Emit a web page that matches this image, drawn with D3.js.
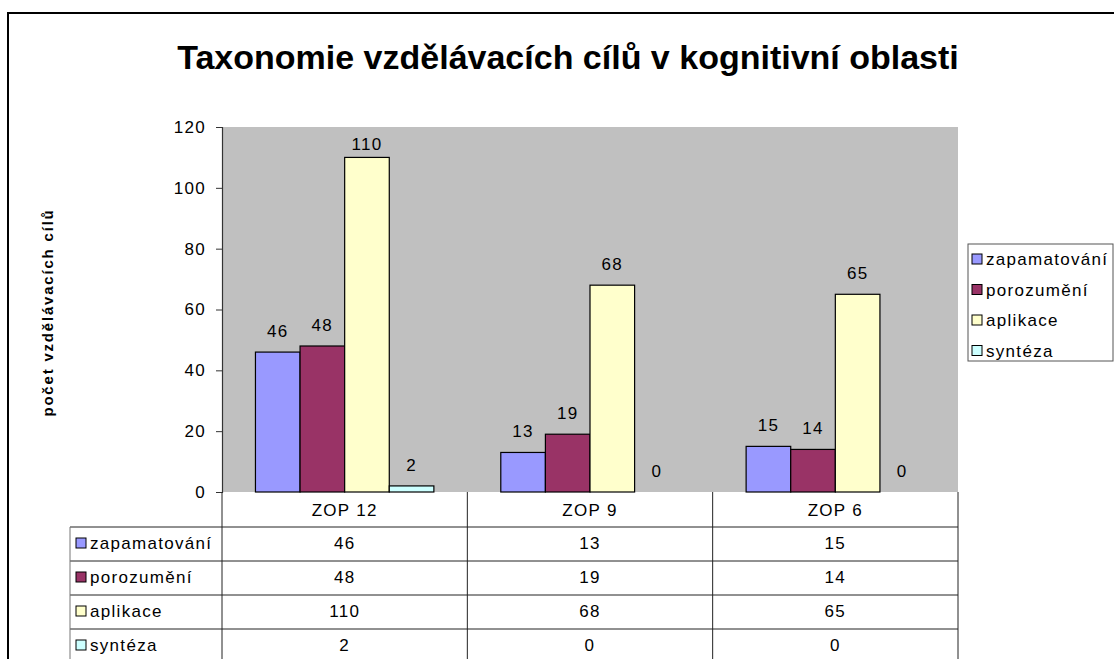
<!DOCTYPE html>
<html>
<head>
<meta charset="utf-8">
<script src="https://cdn.jsdelivr.net/npm/d3@7"></script>
<style>
  body { margin: 0; background: #fff; }
  text { font-family: Arial, "Liberation Sans", sans-serif; fill: #000; }
</style>
</head>
<body>
<svg width="1114" height="659"></svg>
<script>
// chart data
const categories = ['ZOP 12', 'ZOP 9', 'ZOP 6'];
const seriesNames = ['zapamatování', 'porozumění', 'aplikace', 'syntéza'];
const zapamatovani = [46, 13, 15];
const porozumeni = [48, 19, 14];
const aplikace = [110, 68, 65];
const synteza = [2, 0, 0];
const seriesColors = ['#9999FF', '#993366', '#FFFFCC', '#CCFFFF'];
const yTicks = [0, 20, 40, 60, 80, 100, 120];
const chartTitle = 'Taxonomie vzdělávacích cílů v kognitivní oblasti';
const yTitle = 'počet vzdělávacích cílů';

const seriesValues = [zapamatovani, porozumeni, aplikace, synteza];

const svg = d3.select('svg');

// plot area box
const plot = { left: 222, right: 958, top: 127, bottom: 492 };
const tableLeft = 70;
const headerH = 35;
const rowH = 34;
const smallFont = '17px';
const smallSpacing = '1.3px';

// outer chart frame (runs off the right and bottom)
svg.append('rect')
  .attr('x', 8).attr('y', 13)
  .attr('width', 1140).attr('height', 700)
  .attr('fill', '#fff')
  .attr('stroke', '#000')
  .attr('stroke-width', 2);

// title
svg.append('text')
  .attr('x', (plot.left + plot.right) / 2 - 22)
  .attr('y', 69)
  .attr('text-anchor', 'middle')
  .style('font-size', '34px')
  .style('font-weight', 'bold')
  .text(chartTitle);

// scales
const x = d3.scaleBand()
  .domain(categories)
  .range([plot.left, plot.right]);

// Excel-like clustered columns: gap width 150%
const barW = x.bandwidth() / (seriesNames.length + 1.5);
const xs = d3.scaleBand()
  .domain(seriesNames)
  .range([0.75 * barW, 0.75 * barW + seriesNames.length * barW]);

const y = d3.scaleLinear()
  .domain([0, 120])
  .range([plot.bottom, plot.top]);

// plot background
svg.append('rect')
  .attr('x', plot.left).attr('y', plot.top)
  .attr('width', plot.right - plot.left)
  .attr('height', plot.bottom - plot.top)
  .attr('fill', '#C0C0C0');

// y axis
const yAxis = svg.append('g')
  .attr('transform', `translate(${plot.left},0)`)
  .call(d3.axisLeft(y).tickValues(yTicks).tickSize(6).tickPadding(10));
yAxis.select('.domain').attr('stroke', '#333').attr('stroke-width', 1.2);
yAxis.selectAll('.tick line').attr('stroke', '#333');
yAxis.selectAll('.tick text')
  .attr('fill', '#000')
  .style('font-size', smallFont)
  .style('letter-spacing', smallSpacing)
  .style('font-family', 'Arial, "Liberation Sans", sans-serif');

// y axis title
svg.append('text')
  .attr('transform', `translate(53, ${(plot.top + plot.bottom) / 2 + 3}) rotate(-90)`)
  .attr('text-anchor', 'middle')
  .style('font-size', '15px')
  .style('font-weight', 'bold')
  .style('letter-spacing', '1.8px')
  .text(yTitle);

// bars
const groups = svg.append('g').selectAll('g')
  .data(seriesNames)
  .join('g')
  .attr('fill', (d, i) => seriesColors[i]);

groups.selectAll('rect')
  .data((s, i) => categories.map((c, j) => ({ s, c, v: seriesValues[i][j] })))
  .join('rect')
  .attr('x', d => x(d.c) + xs(d.s))
  .attr('y', d => y(d.v))
  .attr('width', xs.bandwidth())
  .attr('height', d => y(0) - y(d.v))
  .attr('stroke', '#000')
  .attr('stroke-width', d => d.v > 0 ? 1.2 : 0);

// data labels
groups.selectAll('text')
  .data((s, i) => categories.map((c, j) => ({ s, c, v: seriesValues[i][j] })))
  .join('text')
  .attr('x', d => x(d.c) + xs(d.s) + xs.bandwidth() / 2)
  .attr('y', d => Math.max(y(d.v) - 15, plot.top + 23))
  .attr('text-anchor', 'middle')
  .attr('fill', '#000')
  .style('font-size', smallFont)
  .style('letter-spacing', smallSpacing)
  .text(d => d.v);

// data table
const table = svg.append('g');
const lineColor = '#222';
const rowTop = i => plot.bottom + headerH + i * rowH;

// header row: category names
table.selectAll('text.cat')
  .data(categories)
  .join('text')
  .attr('class', 'cat')
  .attr('x', d => x(d) + x.bandwidth() / 2)
  .attr('y', plot.bottom + headerH / 2 + 6)
  .attr('text-anchor', 'middle')
  .style('font-size', smallFont)
  .style('letter-spacing', smallSpacing)
  .text(d => d);

// horizontal lines
table.selectAll('line.h')
  .data(d3.range(seriesNames.length + 1))
  .join('line')
  .attr('class', 'h')
  .attr('x1', tableLeft).attr('x2', plot.right)
  .attr('y1', i => rowTop(i)).attr('y2', i => rowTop(i))
  .attr('stroke', lineColor);

// vertical lines: category dividers
table.selectAll('line.v')
  .data([...categories.map(c => x(c)), plot.right])
  .join('line')
  .attr('class', 'v')
  .attr('x1', d => d).attr('x2', d => d)
  .attr('y1', plot.bottom).attr('y2', rowTop(seriesNames.length))
  .attr('stroke', lineColor);

table.append('line')
  .attr('x1', tableLeft).attr('x2', tableLeft)
  .attr('y1', rowTop(0)).attr('y2', rowTop(seriesNames.length))
  .attr('stroke', '#777');

// table rows
const rows = table.selectAll('g.row')
  .data(seriesNames)
  .join('g')
  .attr('class', 'row')
  .attr('transform', (d, i) => `translate(0, ${rowTop(i) + rowH / 2})`);

rows.append('rect')
  .attr('x', tableLeft + 6).attr('y', -6)
  .attr('width', 10).attr('height', 10)
  .attr('fill', (d, i) => seriesColors[i])
  .attr('stroke', '#000');

rows.append('text')
  .attr('x', tableLeft + 20).attr('y', 5)
  .style('font-size', smallFont)
  .style('letter-spacing', smallSpacing)
  .text(d => d);

rows.selectAll('text.val')
  .data((s, i) => categories.map((c, j) => ({ c, v: seriesValues[i][j] })))
  .join('text')
  .attr('class', 'val')
  .attr('x', d => x(d.c) + x.bandwidth() / 2)
  .attr('y', 5)
  .attr('text-anchor', 'middle')
  .style('font-size', smallFont)
  .style('letter-spacing', smallSpacing)
  .text(d => d.v);

// legend
const legend = svg.append('g').attr('transform', 'translate(968, 244)');
legend.append('rect')
  .attr('width', 145).attr('height', 117)
  .attr('fill', '#fff')
  .attr('stroke', '#555');

const legendItems = legend.selectAll('g')
  .data(seriesNames)
  .join('g')
  .attr('transform', (d, i) => `translate(4, ${16 + i * 30.5})`);

legendItems.append('rect')
  .attr('y', -6)
  .attr('width', 10).attr('height', 10)
  .attr('fill', (d, i) => seriesColors[i])
  .attr('stroke', '#000');

legendItems.append('text')
  .attr('x', 14).attr('y', 5)
  .style('font-size', smallFont)
  .style('letter-spacing', smallSpacing)
  .text(d => d);
</script>
</body>
</html>
